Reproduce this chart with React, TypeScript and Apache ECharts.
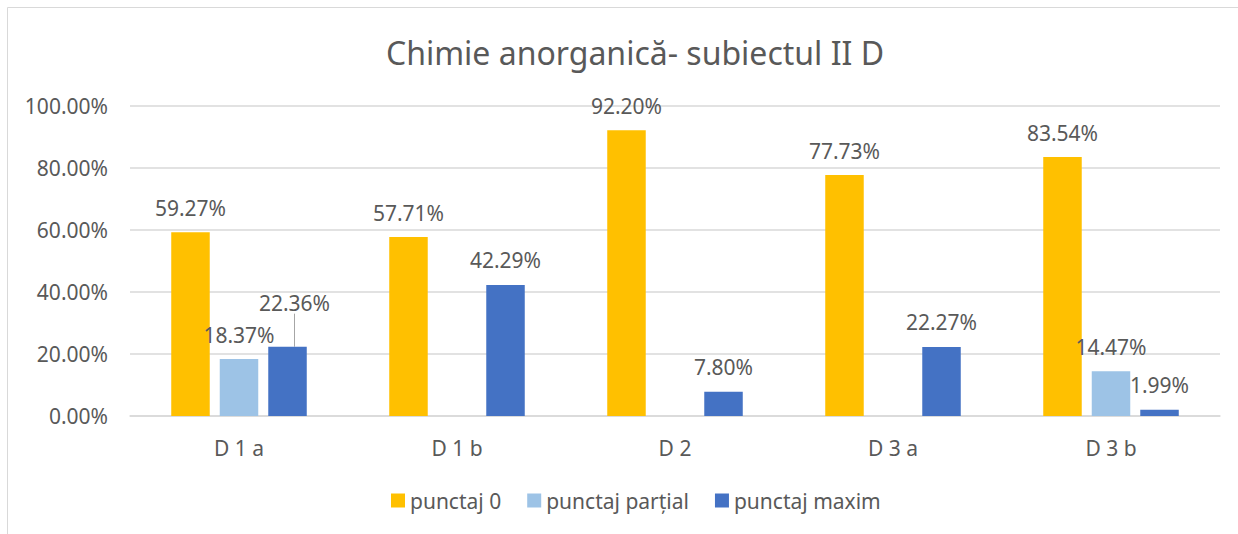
import React, { useEffect, useRef } from "react";
import * as echarts from "echarts";

const categories = ["D 1 a", "D 1 b", "D 2", "D 3 a", "D 3 b"];
const punctaj0 = [59.27, 57.71, 92.2, 77.73, 83.54];
const punctajPartial = [18.37, null, null, null, 14.47];
const punctajMaxim = [22.36, 42.29, 7.8, 22.27, 1.99];
const seriesNames = ["punctaj 0", "punctaj parțial", "punctaj maxim"];
const colors = ["#FFC000", "#9DC3E6", "#4472C4"];

const FONT = "'Noto Sans', sans-serif";
const TXT = "#595959";

export default function App() {
  const ref = useRef<HTMLDivElement>(null);
  useEffect(() => {
    if (!ref.current) return;
    const chart = echarts.init(ref.current, null, { renderer: "svg" });
    const fmt = (v: number) => `${v.toFixed(2)}%`;
    const label = {
      show: true,
      position: "top",
      distance: 14,
      color: TXT,
      fontSize: 21,
      fontFamily: FONT,
      formatter: (p: any) => (p.value == null ? "" : fmt(p.value)),
    };
    const mk = (name: string, data: any[], color: string, extra: any = {}) => ({
      name,
      type: "bar",
      data,
      barWidth: 38.5,
      barGap: "26%",
      itemStyle: { color },
      label,
      ...extra,
    });
    const maximData = punctajMaxim.map((v, i) =>
      i === 0
        ? { value: v, labelLine: { show: true, lineStyle: { color: "#a6a6a6", width: 1 } } }
        : { value: v, labelLine: { show: false } }
    );
    chart.setOption({
      animation: false,
      textStyle: { fontFamily: FONT },
      title: {
        text: "Chimie anorganică- subiectul II D",
        left: 630,
        textAlign: "center",
        top: 31,
        textStyle: { fontSize: 32, fontWeight: "normal", color: TXT, fontFamily: FONT },
      },
      graphic: [
        {
          type: "rect",
          shape: { x: 7.5, y: 7.5, width: 1260, height: 560 },
          style: { fill: "none", stroke: "#d9d9d9", lineWidth: 1 },
          silent: true,
        },
      ],
      legend: {
        left: 386,
        top: 485,
        itemWidth: 14,
        itemHeight: 14,
        itemGap: 26,
        icon: "rect",
        textStyle: { fontSize: 21, color: TXT, fontFamily: FONT },
        data: seriesNames,
      },
      grid: { left: 130, right: 18, top: 106, bottom: 118 },
      xAxis: {
        type: "category",
        data: categories,
        axisTick: { show: false },
        axisLine: { lineStyle: { color: "#d9d9d9", width: 1.5 } },
        axisLabel: { color: TXT, fontSize: 21, fontFamily: FONT, margin: 21 },
      },
      yAxis: {
        type: "value",
        min: 0,
        max: 100,
        interval: 20,
        axisLabel: {
          color: TXT,
          fontSize: 21,
          fontFamily: FONT,
          margin: 22,
          formatter: (v: number) => fmt(v),
        },
        splitLine: { lineStyle: { color: "#d9d9d9", width: 1.5 } },
        axisLine: { show: false },
        axisTick: { show: false },
      },
      series: [
        mk(seriesNames[0], punctaj0, colors[0]),
        mk(seriesNames[1], punctajPartial, colors[1]),
        mk(seriesNames[2], maximData, colors[2], {
          labelLayout: (p: any) => (p.dataIndex === 0 ? { dx: 7, dy: -19 } : {}),
        }),
      ],
    });
    return () => chart.dispose();
  }, []);
  return (
    <div
      ref={ref}
      style={{ position: "fixed", left: 0, top: 0, width: 1238, height: 534, background: "#fff" }}
    />
  );
}
